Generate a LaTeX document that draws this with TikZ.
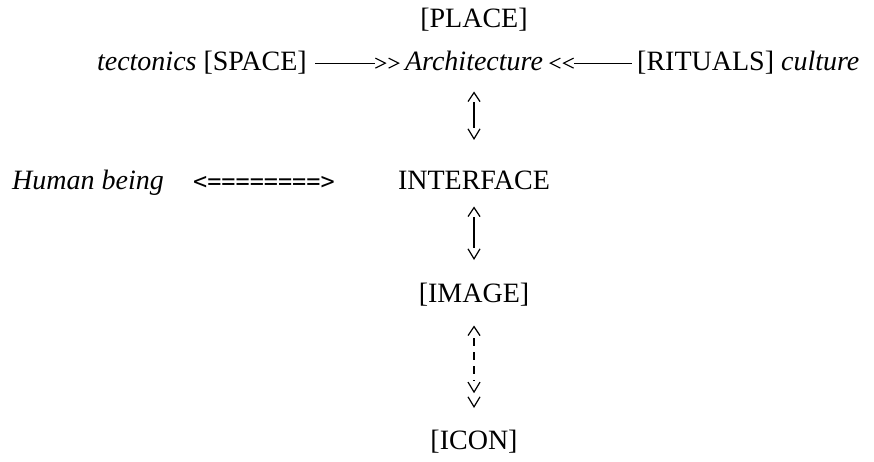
\documentclass[tikz,border=0pt]{standalone}
\usepackage{fontspec}
\setmainfont{Liberation Serif}
\newfontfamily\monofont{DejaVu Sans Mono}
\usetikzlibrary{arrows.meta}
\tikzset{
  txt/.style={inner sep=0pt, font=\fontsize{28}{34}\selectfont, text=black},
  mono/.style={inner sep=0pt, font=\monofont\fontsize{23.5}{28}\selectfont, text=black},
  hline/.style={line width=1.1pt, black},
  vline/.style={line width=1.1pt, black,
    {Straight Barb[length=9pt,width=12pt,sep=3.5pt,line width=1.2pt] .}-{. Straight Barb[length=10pt,width=12pt,sep=2pt,line width=1.2pt]}},
  vdashline/.style={line width=1.1pt, black, dash pattern=on 8pt off 6pt, dash phase=-2pt,
    {Straight Barb[length=9pt,width=12pt,sep=3.5pt,line width=1.2pt] .}-{. Straight Barb[length=10pt,width=12pt,sep=3pt,line width=1.2pt] Straight Barb[length=10pt,width=12pt,sep=2pt,line width=1.2pt]}},
  tor/.style={-{. Straight Barb[length=10pt,width=10pt,sep=1.5pt,line width=1.1pt] Straight Barb[length=10pt,width=10pt,sep=2pt,line width=1.1pt]}},
  tol/.style={{Straight Barb[length=10pt,width=10pt,sep=2pt,line width=1.1pt] Straight Barb[length=10pt,width=10pt,sep=1.5pt,line width=1.1pt] .}-}
}
\begin{document}
\begin{tikzpicture}[x=1pt,y=-1pt]
\useasboundingbox (0,0) rectangle (874,462);
\node[txt, anchor=base] (place) at (474,28) {[PLACE]};
\node[txt, anchor=base east] (tect) at (307,71) {\textit{tectonics} [SPACE]};
\node[txt, anchor=base] (arch) at (474,71) {\textit{Architecture}};
\node[txt, anchor=base west] (rit) at (637,71) {[RITUALS] \textit{culture}};
\node[txt, anchor=base west] (human) at (12,190) {\textit{Human being}};
\node[mono, anchor=base west] (dbl) at (193,190) {<========>};
\node[txt, anchor=base] (iface) at (474,190) {INTERFACE};
\node[txt, anchor=base] (img) at (474,302) {[IMAGE]};
\node[txt, anchor=base] (icon) at (474,449) {[ICON]};

\draw[hline, tor, shorten <=8pt, shorten >=3pt] (tect.east) -- (tect.east -| arch.west);
\draw[hline, tol, shorten <=4pt, shorten >=5pt] (arch.east |- rit.west) -- (rit.west);

\draw[vline] ([yshift=-17pt]arch.base) -- ([yshift=48pt]iface.base);
\draw[vline] ([yshift=-13pt]iface.base) -- ([yshift=40pt]img.base);
\draw[vdashline] ([yshift=-20pt]img.base) -- ([yshift=39pt]icon.base);
\end{tikzpicture}
\end{document}
